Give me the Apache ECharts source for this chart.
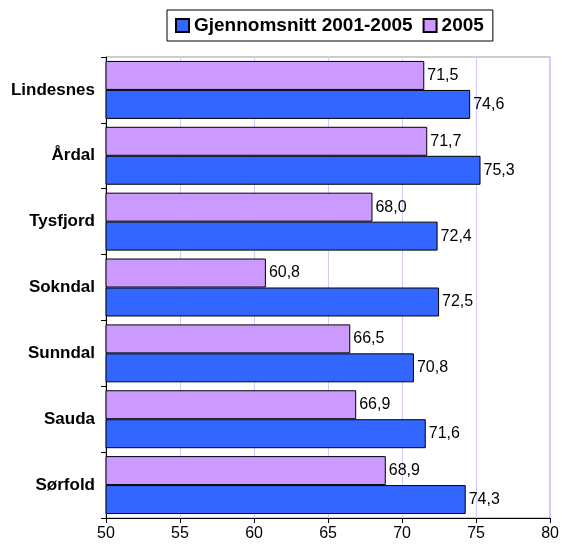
<!DOCTYPE html>
<html><head><meta charset="utf-8">
<script src="https://cdn.jsdelivr.net/npm/echarts@6/dist/echarts.min.js"></script>
<style>html,body{margin:0;padding:0;background:#fff}#c{width:562px;height:550px}</style>
</head><body><div id="c"></div>
<script>
const categories = ['Lindesnes','Årdal','Tysfjord','Sokndal','Sunndal','Sauda','Sørfold'];
const avg2001_2005 = [74.6,75.3,72.4,72.5,70.8,71.6,74.3];
const y2005 = [71.5,71.7,68.0,60.8,66.5,66.9,68.9];
const seriesNames = ['Gjennomsnitt 2001-2005','2005'];
const xTicks = [50,55,60,65,70,75,80];

const chart = echarts.init(document.getElementById('c'));
const FONT = 'Liberation Sans, Arial, sans-serif';
const fmt = p => p.value.toFixed(1).replace('.', ',');
const lbl = {show:true, position:'right', distance:3, formatter:fmt, color:'#000', fontSize:16, fontFamily:FONT};
chart.setOption({
  animation:false,
  legend:{
    data:[seriesNames[0], seriesNames[1]],
    top:10, left:167, borderColor:'#000', borderWidth:1, padding:[6,9,6,8],
    icon:'rect', itemWidth:13, itemHeight:13, itemGap:10,
    textStyle:{fontSize:19, fontWeight:'bold', color:'#000', fontFamily:FONT}
  },
  grid:{left:106, right:9, top:57, bottom:32, show:true, borderColor:'#999', borderWidth:1},
  xAxis:{
    type:'value', min:xTicks[0], max:xTicks[xTicks.length-1], interval:5,
    axisLine:{show:true, lineStyle:{color:'#000'}},
    axisTick:{show:true, lineStyle:{color:'#000'}, length:5},
    axisLabel:{color:'#000', fontSize:16, margin:8, fontFamily:FONT},
    splitLine:{show:true, lineStyle:{color:'#ccccff'}}
  },
  yAxis:{
    type:'category', data:categories, inverse:true,
    axisLine:{show:true, lineStyle:{color:'#000'}},
    axisTick:{show:true, lineStyle:{color:'#000'}, length:5},
    axisLabel:{color:'#000', fontSize:17, fontWeight:'bold', margin:11, fontFamily:FONT}
  },
  series:[
    {name:seriesNames[1], type:'bar', data:y2005, barCategoryGap:'12%', barGap:'0%',
     itemStyle:{color:'#cc99ff', borderColor:'#000', borderWidth:1}, label:lbl},
    {name:seriesNames[0], type:'bar', data:avg2001_2005, barCategoryGap:'12%', barGap:'0%',
     itemStyle:{color:'#3366ff', borderColor:'#000', borderWidth:1}, label:lbl}
  ]
});
</script></body></html>
